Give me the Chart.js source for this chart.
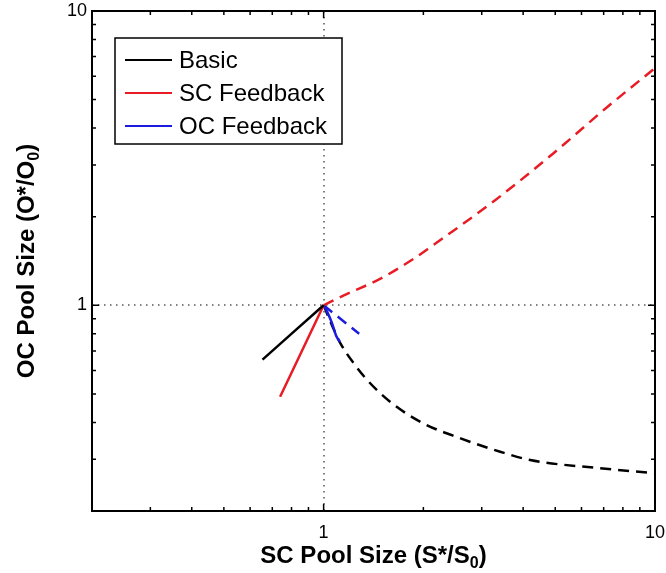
<!DOCTYPE html>
<html>
<head>
<meta charset="utf-8">
<script src="https://cdn.jsdelivr.net/npm/chart.js@4.4.1/dist/chart.umd.min.js"></script>
<style>
  html, body { margin: 0; padding: 0; background: #fff; }
  #wrap { width: 666px; height: 573px; position: relative; }
</style>
</head>
<body>
<div id="wrap"><canvas id="chart"></canvas></div>
<script>
"use strict"
const FONT = "'Liberation Sans', Arial, Helvetica, sans-serif";

const legendLabels = ["Basic", "SC Feedback", "OC Feedback"];
const seriesColors = ["#000000", "rgb(232,28,36)", "rgb(28,28,222)"];
const xTitle = ["SC Pool Size (S*/S", "0", ")"];
const yTitle = ["OC Pool Size (O*/O", "0", ")"];

// solid parts (left of / below the reference point)
const basicSolidX = [0.654, 1];
const basicSolidY = [0.654, 1];
const scSolidX = [0.739, 1];
const scSolidY = [0.489, 1];
const ocSolidX = [1, 1.025, 1.06, 1.09, 1.12];
const ocSolidY = [1, 0.95, 0.87, 0.79, 0.75];

// dashed parts
const basicDashX = [1, 1.07, 1.125, 1.234, 1.354, 1.61, 2.0, 2.59, 3.41, 4.2, 6.69, 10];
const basicDashY = [1, 0.834, 0.741, 0.634, 0.557, 0.464, 0.397, 0.353, 0.318, 0.298, 0.280, 0.269];
const scDashX = [1, 1.151, 1.485, 1.871, 2.10, 3.30, 4.93, 7.15, 10];
const scDashY = [1, 1.081, 1.232, 1.44, 1.577, 2.28, 3.28, 4.70, 6.4];
const ocDashX = [1, 1.28];
const ocDashY = [1, 0.80];

const axisMin = 0.2;
const axisMax = 10;
const tickLabels = [1, 10];

function pts(xs, ys) {
    return xs.map((v, i) => ({ x: v, y: ys[i] }));
}

function series(label, xs, ys, color, dashed) {
    return {
        label: label,
        data: pts(xs, ys),
        borderColor: color,
        backgroundColor: color,
        borderWidth: 2.5,
        borderDash: dashed ? [11, 7] : [],
        pointRadius: 0,
        fill: false,
        cubicInterpolationMode: "monotone",
        inLegend: !dashed
    };
}

function logTicks(min, max) {
    const out = [];
    for (let e = Math.floor(Math.log10(min)); e <= Math.ceil(Math.log10(max)); e++) {
        for (let m = 1; m <= 9; m++) {
            const v = m * Math.pow(10, e);
            if (v >= min * 0.9999 && v <= max * 1.0001) out.push({ v: v, major: m === 1 });
        }
    }
    return out;
}

// title with a lowered "0" subscript, drawn at (0,0) of the current transform, centred
function subTitle(ctx, parts) {
    const big = "bold 24px " + FONT;
    const small = "bold 16px " + FONT;
    ctx.font = big;
    const w0 = ctx.measureText(parts[0]).width;
    const w2 = ctx.measureText(parts[2]).width;
    ctx.font = small;
    const w1 = ctx.measureText(parts[1]).width;
    let x = -(w0 + w1 + w2) / 2;
    ctx.textAlign = "left";
    ctx.textBaseline = "alphabetic";
    ctx.fillStyle = "#000";
    ctx.font = big;
    ctx.fillText(parts[0], x, 0);
    x += w0;
    ctx.font = small;
    ctx.fillText(parts[1], x, 5);
    x += w1;
    ctx.font = big;
    ctx.fillText(parts[2], x, 0);
}

const framePlugin = {
    id: "frame",
    beforeDatasetsDraw(chart) {
        const { ctx, chartArea: a, scales: { x, y } } = chart;
        ctx.save();
        ctx.strokeStyle = "#555";
        ctx.lineWidth = 1.5;
        ctx.setLineDash([1.5, 4.5]);
        const px = Math.round(x.getPixelForValue(1));
        const py = Math.round(y.getPixelForValue(1));
        ctx.beginPath();
        ctx.moveTo(px, a.top); ctx.lineTo(px, a.bottom);
        ctx.moveTo(a.left, py); ctx.lineTo(a.right, py);
        ctx.stroke();
        ctx.restore();
    },
    afterDatasetsDraw(chart) {
        const { ctx, chartArea: a, scales: { x, y } } = chart;
        ctx.save();
        ctx.strokeStyle = "#000";
        ctx.lineWidth = 2;
        ctx.strokeRect(a.left, a.top, a.right - a.left, a.bottom - a.top);

        ctx.lineWidth = 1.5;
        ctx.beginPath();
        logTicks(x.min, x.max).forEach(t => {
            const p = x.getPixelForValue(t.v);
            const len = t.major ? 7 : 4;
            ctx.moveTo(p, a.bottom); ctx.lineTo(p, a.bottom - len);
            ctx.moveTo(p, a.top); ctx.lineTo(p, a.top + len);
        });
        logTicks(y.min, y.max).forEach(t => {
            const p = y.getPixelForValue(t.v);
            const len = t.major ? 7 : 4;
            ctx.moveTo(a.left, p); ctx.lineTo(a.left + len, p);
            ctx.moveTo(a.right, p); ctx.lineTo(a.right - len, p);
        });
        ctx.stroke();

        // legend box
        const bx = a.left + 23, by = a.top + 27, bw = 227, bh = 106;
        ctx.fillStyle = "#fff";
        ctx.fillRect(bx, by, bw, bh);
        ctx.lineWidth = 1.5;
        ctx.strokeRect(bx, by, bw, bh);
        const items = chart.data.datasets.filter(d => d.inLegend);
        ctx.font = "24px " + FONT;
        ctx.textBaseline = "middle";
        ctx.textAlign = "left";
        items.forEach((d, i) => {
            const ly = by + 22 + i * 33;
            ctx.strokeStyle = d.borderColor;
            ctx.lineWidth = 2;
            ctx.beginPath();
            ctx.moveTo(bx + 10, ly); ctx.lineTo(bx + 57, ly);
            ctx.stroke();
            ctx.fillStyle = "#000";
            ctx.fillText(d.label, bx + 64, ly + 1);
        });

        // axis titles
        ctx.save();
        ctx.translate((a.left + a.right) / 2, 563);
        subTitle(ctx, xTitle);
        ctx.restore();
        ctx.save();
        ctx.translate(34, (a.top + a.bottom) / 2);
        ctx.rotate(-Math.PI / 2);
        subTitle(ctx, yTitle);
        ctx.restore();

        ctx.restore();
    }
};

function tickCb(value) {
    for (const t of tickLabels) {
        if (Math.abs(value - t) < 1e-9) return String(t);
    }
    return "";
}

new Chart(document.getElementById("chart"), {
    type: "line",
    data: {
        datasets: [
            series(legendLabels[0], basicSolidX, basicSolidY, seriesColors[0], false),
            series(legendLabels[1], scSolidX, scSolidY, seriesColors[1], false),
            series(legendLabels[2], ocSolidX, ocSolidY, seriesColors[2], false),
            series(legendLabels[0] + " (dashed)", basicDashX, basicDashY, seriesColors[0], true),
            series(legendLabels[1] + " (dashed)", scDashX, scDashY, seriesColors[1], true),
            series(legendLabels[2] + " (dashed)", ocDashX, ocDashY, seriesColors[2], true)
        ]
    },
    plugins: [framePlugin],
    options: {
        responsive: true,
        maintainAspectRatio: false,
        animation: false,
        layout: { padding: 0 },
        plugins: {
            legend: { display: false },
            tooltip: { enabled: false }
        },
        scales: {
            x: {
                type: "logarithmic",
                min: axisMin,
                max: axisMax,
                grid: { display: false, drawTicks: false },
                border: { display: false },
                ticks: {
                    autoSkip: false,
                    maxRotation: 0,
                    padding: 11,
                    color: "#000",
                    font: { family: FONT, size: 18 },
                    callback: tickCb
                },
                afterFit(scale) {
                    scale.height = 62;
                    scale.paddingLeft = 0;
                    scale.paddingRight = 11;
                }
            },
            y: {
                type: "logarithmic",
                min: axisMin,
                max: axisMax,
                grid: { display: false, drawTicks: false },
                border: { display: false },
                ticks: {
                    autoSkip: false,
                    padding: 5,
                    color: "#000",
                    font: { family: FONT, size: 18 },
                    callback: tickCb
                },
                afterFit(scale) {
                    scale.width = 92;
                    scale.paddingTop = 11;
                    scale.paddingBottom = 0;
                }
            }
        }
    }
});
</script>
</body>
</html>
